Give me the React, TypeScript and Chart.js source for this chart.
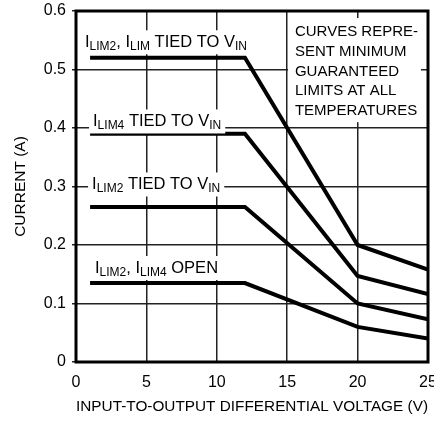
import React, { useEffect, useRef } from 'react';
import { Chart, registerables } from 'chart.js';

Chart.register(...registerables);

// ---- data ----
const xTickLabels = ['0', '5', '10', '15', '20', '25'];
const yTickLabels = ['0', '0.1', '0.2', '0.3', '0.4', '0.5', '0.6'];

const voltage = [1, 12, 20, 25];
const currentLim2LimTied = [0.52, 0.52, 0.2, 0.158];
const currentLim4Tied = [0.39, 0.39, 0.147, 0.116];
const currentLim2Tied = [0.265, 0.265, 0.1, 0.073];
const currentOpen = [0.135, 0.135, 0.06, 0.04];

const xTitle = 'INPUT-TO-OUTPUT DIFFERENTIAL VOLTAGE (V)';
const yTitle = 'CURRENT (A)';

// label text parts: [text, isSubscript]
const labelLim2Lim: [string, number][] = [['I', 0], ['LIM2', 1], [', I', 0], ['LIM', 1], [' TIED TO V', 0], ['IN', 1]];
const labelLim4: [string, number][] = [['I', 0], ['LIM4', 1], [' TIED TO V', 0], ['IN', 1]];
const labelLim2: [string, number][] = [['I', 0], ['LIM2', 1], [' TIED TO V', 0], ['IN', 1]];
const labelOpen: [string, number][] = [['I', 0], ['LIM2', 1], [', I', 0], ['LIM4', 1], [' OPEN', 0]];
const noteLines = ['CURVES REPRE-', 'SENT MINIMUM', 'GUARANTEED', 'LIMITS AT ALL', 'TEMPERATURES'];

// label anchors in data units (left x, baseline y)
const curveLabels = [
  { x: 0.64, y: 0.538, parts: labelLim2Lim },
  { x: 1.21, y: 0.4026, parts: labelLim4 },
  { x: 1.14, y: 0.2949, parts: labelLim2 },
  { x: 1.35, y: 0.1521, parts: labelOpen },
];
const note = { x: 15.55, y: 0.557, boxX0: 15.06, boxX1: 24.5, boxY0: 0.588, boxY1: 0.41 };

const FONT = "'Liberation Sans', Arial, Helvetica, sans-serif";

const toPoints = (xs: number[], ys: number[]) => xs.map((x, i) => ({ x, y: ys[i] }));

const annotationPlugin = {
  id: 'annotations',
  afterDatasetsDraw(chart: any) {
    const ctx: CanvasRenderingContext2D = chart.ctx;
    const xs = chart.scales.x;
    const ys = chart.scales.y;
    const area = chart.chartArea;
    ctx.save();
    const mainSize = 16.5;
    const subSize = 12;
    for (const lab of curveLabels) {
      const px = xs.getPixelForValue(lab.x);
      const py = ys.getPixelForValue(lab.y);
      let w = 0;
      for (const [t, s] of lab.parts) {
        ctx.font = `${s ? subSize : mainSize}px ${FONT}`;
        w += ctx.measureText(t).width;
      }
      ctx.fillStyle = '#fff';
      ctx.fillRect(px - 4, py - 17, w + 8, 24);
      let cx = px;
      ctx.fillStyle = '#000';
      ctx.textBaseline = 'alphabetic';
      ctx.textAlign = 'left';
      for (const [t, s] of lab.parts) {
        ctx.font = `${s ? subSize : mainSize}px ${FONT}`;
        ctx.fillText(t, cx, s ? py + 2.5 : py);
        cx += ctx.measureText(t).width;
      }
    }
    // note box
    const bx0 = xs.getPixelForValue(note.boxX0);
    const bx1 = xs.getPixelForValue(note.boxX1);
    const by0 = ys.getPixelForValue(note.boxY0);
    const by1 = ys.getPixelForValue(note.boxY1);
    ctx.fillStyle = '#fff';
    ctx.fillRect(bx0, by0, bx1 - bx0, by1 - by0);
    ctx.fillStyle = '#000';
    ctx.font = `15px ${FONT}`;
    const nx = xs.getPixelForValue(note.x);
    const ny = ys.getPixelForValue(note.y);
    noteLines.forEach((line, i) => ctx.fillText(line, nx, ny + i * 19.75));
    // frame
    ctx.strokeStyle = '#000';
    ctx.lineWidth = 3;
    ctx.strokeRect(area.left, area.top, area.right - area.left, area.bottom - area.top);
    ctx.restore();
  },
};

export default function App() {
  const ref = useRef<HTMLCanvasElement>(null);
  useEffect(() => {
    if (!ref.current) return;
    const line = (data: number[]) => ({
      data: toPoints(voltage, data),
      borderColor: '#000',
      borderWidth: 4,
      pointRadius: 0,
      tension: 0,
      fill: false,
      borderJoinStyle: 'miter' as const,
    });
    const chart = new Chart(ref.current, {
      type: 'line',
      data: {
        datasets: [
          line(currentLim2LimTied),
          line(currentLim4Tied),
          line(currentLim2Tied),
          line(currentOpen),
        ],
      },
      options: {
        animation: false,
        responsive: false,
        devicePixelRatio: 1,
        layout: { padding: { top: 11, right: 6, left: 0, bottom: 0 } },
        plugins: { legend: { display: false }, tooltip: { enabled: false } },
        scales: {
          x: {
            type: 'linear',
            min: 0,
            max: 25,
            ticks: {
              stepSize: 5,
              padding: 11,
              color: '#000',
              font: { size: 16, family: FONT },
              maxRotation: 0,
              callback: (_v: any, i: number) => xTickLabels[i],
            },
            grid: { color: '#222', lineWidth: 1.5, drawTicks: false },
            border: { display: false },
            title: {
              display: true,
              text: xTitle,
              color: '#000',
              font: { size: 15.5, family: FONT },
              padding: { top: 0, bottom: 6 },
            },
            afterFit: (s: any) => {
              s.height = 60;
              s.paddingLeft = 0;
              s.paddingRight = 0;
            },
          },
          y: {
            min: 0,
            max: 0.6,
            ticks: {
              stepSize: 0.1,
              padding: 6,
              color: '#000',
              font: { size: 16, family: FONT },
              callback: (_v: any, i: number) => yTickLabels[i],
            },
            grid: { color: '#222', lineWidth: 1.5, drawTicks: true, tickLength: 4 },
            border: { display: false },
            title: {
              display: true,
              text: yTitle,
              color: '#000',
              font: { size: 15.5, family: FONT },
              padding: { top: 11, bottom: 0 },
            },
            afterFit: (s: any) => {
              s.width = 76;
              s.paddingTop = 0;
              s.paddingBottom = 0;
            },
          },
        },
      } as any,
      plugins: [annotationPlugin],
    });
    return () => chart.destroy();
  }, []);
  return (
    <div style={{ position: 'absolute', left: 0, top: 0, width: 434, height: 422, background: '#fff' }}>
      <canvas ref={ref} width={434} height={422} style={{ display: 'block' }} />
    </div>
  );
}
